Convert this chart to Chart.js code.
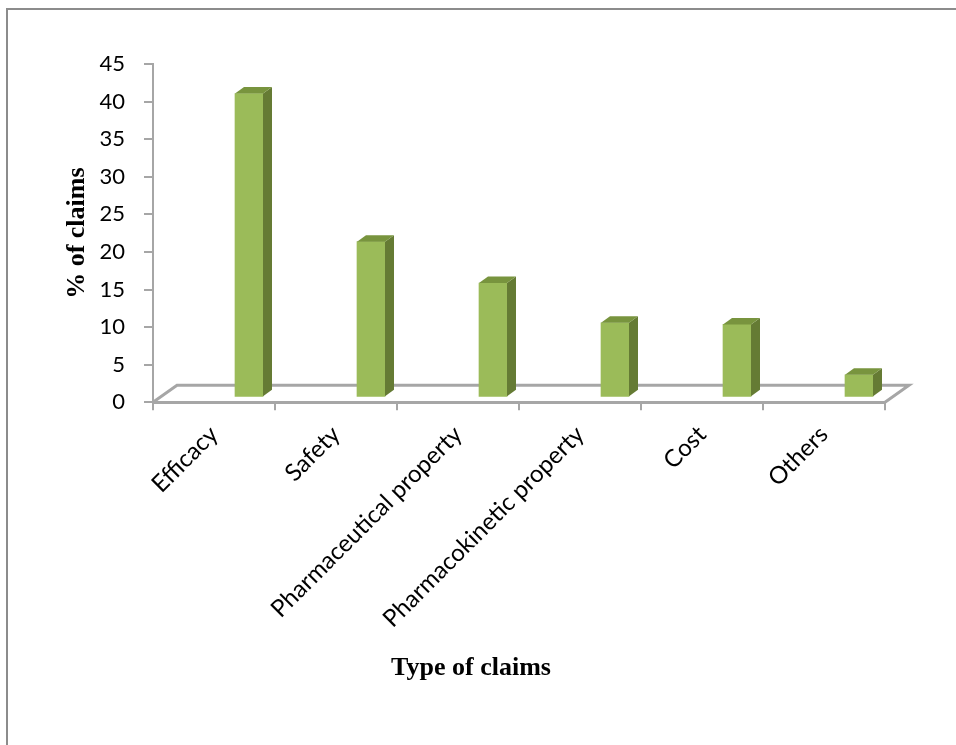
<!DOCTYPE html>
<html>
<head>
<meta charset="utf-8">
<script src="https://cdn.jsdelivr.net/npm/chart.js@4/dist/chart.umd.min.js"></script>
<style>
    html, body { margin: 0; padding: 0; background: #fff; }
    #wrap { width: 956px; height: 745px; }
</style>
</head>
<body>
<div id="wrap"><canvas id="grafico-claims" width="956" height="745"></canvas></div>
<script>
// Dados do grafico
const categorias = ["Efficacy", "Safety", "Pharmaceutical property", "Pharmacokinetic property", "Cost", "Others"]
const percentuais = [40.4, 20.7, 15.2, 9.9, 9.7, 3.0]
const ticksY = [0, 5, 10, 15, 20, 25, 30, 35, 40, 45]

const corFrente = "#9BBB59"
const corLado = "#657B34"
const corTopo = "#78943E"
const corEixo = "#A6A6A6"

// deslocamento das barras dentro do "chao" 3D
const deslocX = 35
const deslocY = -5
// profundidade da barra
const profX = 9
const profY = -6.5
// profundidade do chao
const chaoX = 24
const chaoY = -17

const moldura = {
    id: "moldura",
    afterDraw(chart) {
        const ctx = chart.ctx
        ctx.save()
        ctx.strokeStyle = "#8C8C8C"
        ctx.lineWidth = 2
        ctx.beginPath()
        ctx.moveTo(7, 745)
        ctx.lineTo(7, 9)
        ctx.lineTo(956, 9)
        ctx.stroke()
        ctx.restore()
    }
}

const barras3D = {
    id: "barras3D",
    beforeDatasetsDraw(chart) {
        const ctx = chart.ctx
        const area = chart.chartArea
        const y0 = chart.scales.y.getPixelForValue(0)

        // chao
        ctx.save()
        ctx.strokeStyle = corEixo
        ctx.lineWidth = 3
        ctx.lineJoin = "miter"
        ctx.beginPath()
        ctx.moveTo(area.left, y0)
        ctx.lineTo(area.left + chaoX, y0 + chaoY)
        ctx.lineTo(area.right + chaoX, y0 + chaoY)
        ctx.lineTo(area.right, y0)
        ctx.stroke()
        ctx.restore()

        ctx.save()
        ctx.translate(deslocX, deslocY)
    },
    afterDatasetsDraw(chart) {
        const ctx = chart.ctx
        chart.getDatasetMeta(0).data.forEach(barra => {
            const esq = barra.x - barra.width / 2
            const dir = barra.x + barra.width / 2
            const topo = barra.y
            const base = barra.base

            ctx.fillStyle = corLado
            ctx.beginPath()
            ctx.moveTo(dir, topo)
            ctx.lineTo(dir + profX, topo + profY)
            ctx.lineTo(dir + profX, base + profY)
            ctx.lineTo(dir, base)
            ctx.closePath()
            ctx.fill()

            ctx.fillStyle = corTopo
            ctx.beginPath()
            ctx.moveTo(esq, topo)
            ctx.lineTo(esq + profX, topo + profY)
            ctx.lineTo(dir + profX, topo + profY)
            ctx.lineTo(dir, topo)
            ctx.closePath()
            ctx.fill()
        })
        ctx.restore()
    }
}

const graficoClaims = new Chart(
    document.getElementById("grafico-claims"),
    {
        type: "bar",
        data: {
            labels: categorias,
            datasets: [{
                label: "% of claims",
                data: percentuais,
                backgroundColor: corFrente,
                borderWidth: 0,
                barThickness: 28,
                categoryPercentage: 1
            }]
        },
        options: {
            responsive: false,
            animation: false,
            devicePixelRatio: 1,
            layout: {
                padding: { left: 57, top: 64, right: 71, bottom: 61 }
            },
            scales: {
                x: {
                    afterFit(scale) { scale.height = 250.5 },
                    grid: {
                        display: true,
                        drawOnChartArea: false,
                        drawTicks: true,
                        tickLength: 8,
                        color: corEixo,
                        lineWidth: 2
                    },
                    border: { display: true, color: corEixo, width: 3 },
                    ticks: {
                        minRotation: 45,
                        maxRotation: 45,
                        autoSkip: false,
                        padding: 10,
                        color: "#000",
                        font: { family: "Lato", size: 24 }
                    }
                },
                y: {
                    min: 0,
                    max: 45,
                    afterFit(scale) { scale.width = 153 - 57 },
                    afterBuildTicks(scale) {
                        scale.ticks = ticksY.map(v => ({ value: v }))
                    },
                    grid: {
                        display: true,
                        drawOnChartArea: false,
                        drawTicks: true,
                        tickLength: 9,
                        color: corEixo,
                        lineWidth: 2
                    },
                    border: { display: true, color: corEixo, width: 2 },
                    ticks: {
                        padding: 19,
                        color: "#000",
                        font: { family: "Lato", size: 22 }
                    },
                    title: {
                        display: true,
                        text: "% of claims",
                        color: "#000",
                        padding: { top: 5, bottom: 0 },
                        font: { family: "Liberation Serif", size: 26, weight: "bold" }
                    }
                }
            },
            plugins: {
                legend: { display: false },
                tooltip: { enabled: false },
                title: {
                    display: true,
                    position: "bottom",
                    text: "Type of claims",
                    color: "#000",
                    padding: 0,
                    font: { family: "Liberation Serif", size: 26, weight: "bold" }
                }
            }
        },
        plugins: [barras3D, moldura]
    }
)
</script>
</body>
</html>
